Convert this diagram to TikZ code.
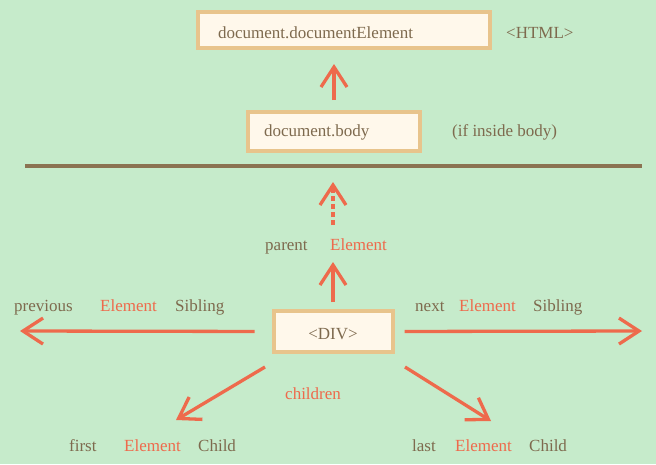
\documentclass[tikz,border=0pt]{standalone}
\usepackage{fontspec}
\setmainfont{Liberation Serif}
\usetikzlibrary{arrows.meta}

\definecolor{bggreen}{HTML}{C6EBCB}
\definecolor{boxfill}{HTML}{FFF8EB}
\definecolor{boxline}{HTML}{E8C48C}
\definecolor{txtbrown}{HTML}{7E6A4E}
\definecolor{elred}{HTML}{EE6A4C}
\definecolor{rulebrown}{HTML}{8B7352}

\newcommand{\Elem}{\textcolor{elred}{Element}}

\begin{document}
\begin{tikzpicture}[x=1pt,y=-1pt,
    every node/.style={font=\fontsize{17}{20}\selectfont, text=txtbrown},
    box/.style={draw=boxline, fill=boxfill, line width=4pt, inner ysep=0pt},
    word/.style={anchor=base west, inner sep=0pt},
    link/.style={draw=elred, line width=3.3pt, -{Straight Barb[length=20pt,width=26pt]}}]

    % Background and picture size
    \fill[bggreen] (0,0) rectangle (656,464);
    \useasboundingbox (0,0) rectangle (656,464);

    % The two boxes above the line
    \node[box, minimum width=292, minimum height=36, inner xsep=20, text width=252, align=left,
          text height=16, text depth=0] (docel) at (344,30) {document.documentElement};
    \node[word] (html) at (506,38) {<HTML>};

    \node[box, minimum width=172, minimum height=39, inner xsep=16, text width=140, align=left,
          text height=12, text depth=2] (body) at (334,131.5) {document.body};
    \node[word] (ifbody) at (452,136) {(if inside body)};

    % Separator line
    \coordinate (ruleL) at (25,166);
    \coordinate (ruleR) at (642,166);
    \draw[rulebrown, line width=4pt] (ruleL) -- (ruleR);

    % The element itself
    \node[box, minimum width=119, minimum height=41, text height=15, text depth=0] (div) at (333,331.5) {<DIV>};

    % Parent
    \coordinate (parent) at (333,244);
    \node[word] (parentw) at (265,250) {parent};
    \node[word] (parentel) at (330,250) {\Elem};

    % Siblings
    \coordinate (prevEnd) at (20,331);
    \coordinate (nextEnd) at (642,331);
    \node[word] (prev) at (14,311) {previous};
    \node[word] (prevel) at (100,311) {\Elem};
    \node[word] (prevsib) at (175,311) {Sibling};
    \node[word] (next) at (415,311) {next};
    \node[word] (nextel) at (459,311) {\Elem};
    \node[word] (nextsib) at (533,311) {Sibling};

    % Children
    \coordinate (kidL) at (265,367);
    \coordinate (kidR) at (405,367);
    \coordinate (firstEnd) at (176,420);
    \coordinate (lastEnd) at (491,421);
    \node[word, text=elred] (children) at (285,399) {children};
    \node[word] (first) at (69,451) {first};
    \node[word] (firstel) at (124,451) {\Elem};
    \node[word] (firstch) at (198,451) {Child};
    \node[word] (last) at (412,451) {last};
    \node[word] (lastel) at (455,451) {\Elem};
    \node[word] (lastch) at (529,451) {Child};

    % Arrows
    \draw[link, shorten <=10pt, shorten >=14pt] (body.north) -- (body.north |- docel.south);
    \draw[link, shorten <=7pt, shorten >=18pt] (div.north) -- (parent);
    \draw[link, dash pattern=on 5pt off 3pt, shorten <=19pt, shorten >=16pt] (parent) -- (parent |- ruleL);
    \draw[link, shorten <=17pt] (div.west) -- (prevEnd);
    \draw[link, shorten <=10pt] (div.east) -- (nextEnd);
    \draw[link] (kidL) -- (firstEnd);
    \draw[link] (kidR) -- (lastEnd);

\end{tikzpicture}
\end{document}
